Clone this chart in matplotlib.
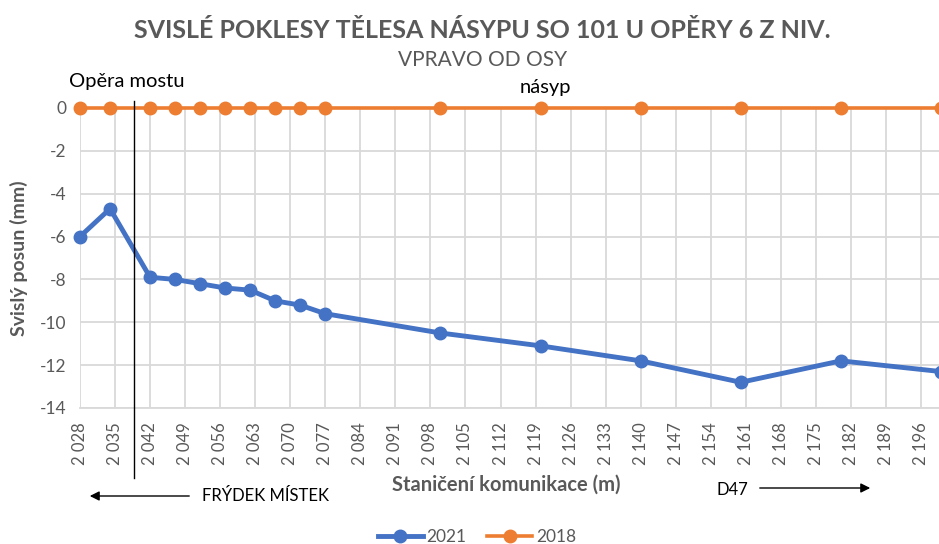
import matplotlib
matplotlib.use("Agg")
import matplotlib.pyplot as plt
import matplotlib.transforms as mtransforms
import numpy as np

# ---- data ----
stations = [2028, 2034, 2042, 2047, 2052, 2057, 2062, 2067, 2072, 2077,
            2100, 2120, 2140, 2160, 2180, 2200]
y2021 = [-6.0, -4.7, -7.9, -8.0, -8.2, -8.4, -8.5, -9.0, -9.2, -9.6,
         -10.5, -11.1, -11.8, -12.8, -11.8, -12.3]
y2018 = [0, 0, 0, 0, 0, 0, 0, 0, 0, 0, 0, 0, 0, 0, 0, 0]
series_names = ["2021", "2018"]
xticks = list(range(2028, 2200, 7))
yticks = [0, -2, -4, -6, -8, -10, -12, -14]
bridge_station = 2038.8

title = "SVISLÉ POKLESY TĚLESA NÁSYPU SO 101 U OPĚRY 6 Z NIV."
subtitle = "VPRAVO OD OSY"
xlabel = "Staničení komunikace (m)"
ylabel = "Svislý posun (mm)"

plt.rcParams['font.family'] = ['Lato', 'DejaVu Sans']

W, H = 939, 544
fig = plt.figure(figsize=(W / 100, H / 100), dpi=100)
ax_l, ax_r, ax_t, ax_b = 80, 939, 108, 408
ax = fig.add_axes([ax_l / W, 1 - ax_b / H, (ax_r - ax_l) / W, (ax_b - ax_t) / H])

blue = "#4472C4"
orange = "#ED7D31"
gray = "#595959"
grid = "#D9D9D9"

ax.plot(stations, y2021, color=blue, lw=3.5, marker='o', ms=9, label=series_names[0],
        clip_on=False, zorder=4)
ax.plot(stations, y2018, color=orange, lw=2.6, marker='o', ms=9, label=series_names[1],
        clip_on=False, zorder=5)

ax.set_xlim(2028, 2028 + (ax_r - ax_l) / 5.006)
ax.set_ylim(-14, 0)
ax.set_xticks(xticks)
ax.set_xticklabels([f"{v:,}".replace(",", " ") for v in xticks], rotation=90,
                   color=gray, fontsize=12)
ax.set_yticks(yticks)
ax.set_yticklabels([str(v) for v in yticks], color=gray, fontsize=12.5)
ax.tick_params(axis='both', length=0)
ax.tick_params(axis='x', pad=10)
ax.tick_params(axis='y', pad=10)
ax.grid(True, color=grid, lw=1.3)
ax.set_axisbelow(True)
for s in ['top', 'right', 'left']:
    ax.spines[s].set_visible(False)
ax.spines['bottom'].set_color(grid)
ax.spines['bottom'].set_linewidth(1.3)

ax.set_ylabel(ylabel, color=gray, fontsize=14, fontweight='bold')
ax.yaxis.set_label_coords(-52 / (ax_r - ax_l), 0.5)

fig.text(482 / W, 1 - 30 / H, title, ha='center', va='center', color=gray,
         fontsize=18, fontweight='bold')
fig.text(483 / W, 1 - 60 / H, subtitle, ha='center', va='center', color=gray,
         fontsize=15)
fig.text(506 / W, 1 - 485 / H, xlabel, ha='center', va='center', color=gray,
         fontsize=14.5, fontweight='bold')

# annotations
fig.text(69 / W, 1 - 82 / H, "Opěra mostu", ha='left', va='center', color='black', fontsize=14.5)
fig.text(545 / W, 1 - 88 / H, "násyp", ha='center', va='center', color='black', fontsize=14.5)
fig.text(202 / W, 1 - 496 / H, "FRÝDEK MÍSTEK", ha='left', va='center', color='black', fontsize=12)
fig.text(717 / W, 1 - 490 / H, "D47", ha='left', va='center', color='black', fontsize=12)

trans = mtransforms.blended_transform_factory(ax.transData, fig.transFigure)
ax.plot([bridge_station, bridge_station], [1 - 101 / H, 1 - 478 / H], color='black',
        lw=1, transform=trans, clip_on=False, zorder=6)

fig.patches.append(matplotlib.patches.FancyArrowPatch(
    (192 / W, 1 - 496 / H), (87 / W, 1 - 496 / H), transform=fig.transFigure,
    arrowstyle='-|>', mutation_scale=14, color='black', lw=1))
fig.patches.append(matplotlib.patches.FancyArrowPatch(
    (757 / W, 1 - 488 / H), (873 / W, 1 - 488 / H), transform=fig.transFigure,
    arrowstyle='-|>', mutation_scale=14, color='black', lw=1))

leg = fig.legend(loc='center', bbox_to_anchor=(477 / W, 1 - 537 / H), ncol=2, frameon=False,
                 fontsize=12.5, handlelength=2.6, columnspacing=1.2, handletextpad=0.2)
for t in leg.get_texts():
    t.set_color(gray)

fig.savefig("out.png", dpi=100)
